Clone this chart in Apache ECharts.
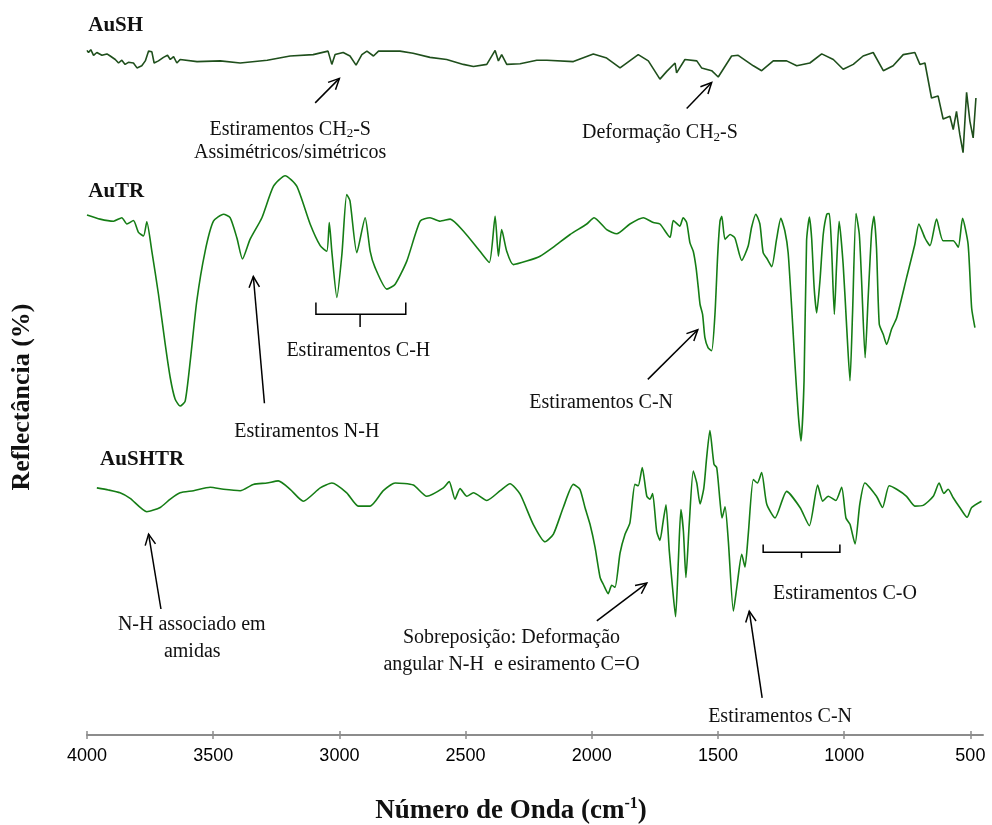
<!DOCTYPE html>
<html>
<head>
<meta charset="utf-8">
<script src="https://cdn.jsdelivr.net/npm/echarts@6/dist/echarts.min.js"></script>
<style>
  html, body { margin: 0; padding: 0; background: #fff; }
  #chart { width: 992px; height: 825px; }
</style>
</head>
<body>
<div id="chart"></div>
<script>
// Wavenumber ticks (cm-1)
const xTicks = [4000, 3500, 3000, 2500, 2000, 1500, 1000, 500];

// AuSH spectrum: wavenumber (cm-1) and reflectance (%), stacked offset included
const wnAuSH = [4000,3994,3985,3974,3961,3941,3921,3908,3888,3875,3862,3849,3836,3816,3802,3783,3769,3756,3743,3734,3717,3697,3681,3670,3657,3644,3631,
  3564,3472,3393,3286,3195,3104,3045,3030,3017,2985,2958,2934,2911,2891,2865,2845,2760,2708,2641,2575,2509,2469,2416,2383,2370,2357,2337,2284,2218,2178,2073,1994,1941,1888,1816,1776,1730,1703,1670,1664,1631,1584,1565,1525,1499,1446,1420,1360,1327,1281,1228,1188,1136,1089,1043,1004,964,925,885,845,806,766,720,700,680,654,628,608,581,568,555,542,529,515,502,489,478];
const rAuSH = [97.8,97.5,97.9,97.1,97.5,97.1,97.3,97.0,96.5,96.0,96.4,95.8,96.1,96.0,95.3,95.6,96.3,97.7,97.6,96.0,96.3,96.8,97.1,96.5,96.9,96.0,96.5,
  96.2,96.3,96.0,96.4,97.0,97.2,97.7,95.8,97.2,97.5,97.0,95.7,97.2,97.7,97.0,97.7,97.7,97.4,96.8,96.5,95.8,95.5,95.8,97.8,96.3,97.2,95.8,95.9,96.4,96.4,96.2,97.3,96.7,95.3,97.2,96.3,93.7,94.8,96.0,94.6,96.5,96.3,95.3,94.9,94.0,97.0,97.1,95.6,94.9,96.3,96.3,95.6,96.0,97.3,96.5,95.1,95.8,97.0,97.5,94.9,95.6,97.2,97.5,95.8,96.0,91.0,91.3,88.0,88.4,86.5,89.1,85.8,83.2,91.8,87.7,85.3,91.0];

// AuTR spectrum
const wnAuTR = [4000,3948,3895,3862,3842,3816,3796,3776,3763,3743,3717,3690,3670,3651,3631,3611,3591,3565,3532,3499,3459,3433,3406,3384,3354,3307,3261,3215,3169,3116,3076,3050,3040,3030,3010,2990,2971,2958,2931,2898,2878,2859,2812,2779,2733,2680,2641,2601,2561,2509,2443,2406,2383,2370,2357,2337,2311,2258,2205,2152,2086,2020,1991,1941,1901,1849,1796,1756,1730,1690,1677,
  1651,1638,1624,1611,1598,1587,1578,1571,1561,1552,1539,1525,1512,1501,1492,1485,1472,1452,1433,1406,1380,1367,1350,1334,1321,1305,1287,1268,1251,1235,1222,1208,1195,1182,1171,1159,1149,1138,1129,1119,1109,1096,1083,1069,1059,1050,1039,1030,1020,1004,990,977,967,953,940,931,917,905,891,882,872,861,845,832,812,792,
  753,720,704,680,660,634,608,568,548,531,509,495,482];
const rAuTR = [74.3,73.7,73.4,73.9,73.0,73.5,71.8,71.3,73.3,69.1,63.0,55.8,51.0,48.0,47.0,47.7,53.4,62.0,69.1,73.4,74.4,73.9,71.0,68.0,70.8,73.9,78.4,79.9,78.4,73.0,69.9,69.1,73.2,69.1,62.5,68.7,77.2,76.3,68.9,73.9,69.1,66.8,63.7,64.4,67.7,73.4,73.9,73.4,73.7,72.0,69.1,67.5,74.1,68.4,72.2,69.1,67.2,67.7,68.4,69.7,71.5,73.0,73.9,72.2,71.6,73.0,73.9,73.2,73.0,71.1,73.5,
  72.7,73.9,73.2,70.3,69.1,66.8,63.9,61.5,60.1,56.8,55.3,54.9,60.1,68.7,73.4,74.1,70.8,71.5,71.0,67.8,69.9,72.5,74.4,73.0,68.9,68.0,66.9,70.8,73.8,72.0,68.9,61.0,53.0,45.8,42.0,50.6,70.6,74.0,71.0,63.9,60.3,64.9,71.5,74.4,74.5,69.6,60.1,67.2,73.4,67.2,58.2,50.6,60.1,74.5,71.5,64.9,53.9,62.5,72.0,74.1,69.6,58.7,57.2,55.8,58.0,59.6,
  65.3,70.1,73.0,71.0,69.9,73.7,70.6,70.6,69.7,73.8,70.1,61.0,58.2];

// AuSHTR spectrum
const wnAuSHTR = [3961,3915,3869,3829,3763,3710,3670,3631,3578,3512,3459,3393,3341,3287,3242,3195,3143,3076,3030,2971,2925,2878,2826,2779,2707,2654,2588,2565,2542,2522,2495,2469,2416,2363,2324,2284,2232,2185,2152,2113,2073,
  2047,2027,2007,1987,1967,1954,1935,1921,1908,1888,1868,1849,1829,1816,1800,1782,1769,1759,1743,1730,1717,1706,1693,1680,1668,1657,1647,1637,1627,1614,1598,1584,1571,1556,1545,1532,1516,1505,1492,1484,1472,1459,1439,1424,1406,1393,1380,1360,1344,1327,1307,1274,
  1228,1175,1138,1105,1085,1063,1033,1010,993,977,957,938,918,872,848,822,792,753,720,687,647,624,605,588,568,542,513,495,456];
const rAuSHTR = [35.3,35.0,34.6,33.8,31.9,32.5,33.7,34.6,34.9,35.4,35.1,34.9,35.8,36.0,36.3,35.1,33.4,35.3,36.0,34.6,32.7,32.7,34.9,36.0,35.7,34.1,35.3,36.2,33.7,35.2,34.1,34.6,33.5,34.9,35.9,34.4,30.1,27.6,28.7,32.5,35.8,
  35.1,32.5,30.1,26.8,22.5,21.5,20.2,21.4,21.1,26.0,28.7,30.3,35.8,35.6,38.2,34.1,33.7,34.5,29.1,27.8,30.6,32.9,26.3,21.0,16.9,24.9,32.2,29.1,22.5,30.1,37.7,36.0,33.0,35.3,39.6,43.5,38.7,38.2,33.4,31.0,32.6,27.7,17.7,21.5,25.8,24.0,28.7,36.5,36.0,37.5,33.0,31.0,
  34.8,32.5,29.9,35.7,33.4,34.1,33.5,35.4,31.0,30.1,27.3,33.0,36.0,34.1,32.5,35.6,35.1,34.1,32.7,32.8,34.1,36.0,34.5,35.1,33.9,32.5,31.1,32.5,33.4];

// Band assignments: arrows (tail -> head) and brackets, in wavenumber / reflectance units
const bandArrows = [
  [[3096, 90.3], [3000, 93.8]],
  [[1624, 89.5], [1525, 93.2]],
  [[3297, 47.4], [3341, 65.5]],
  [[1778, 50.8], [1580, 57.9]],
  [[3707, 18.0], [3756, 28.7]],
  [[1980, 16.3], [1782, 21.7]],
  [[1325, 5.3], [1376, 17.7]]
];
const bandBrackets = [
  { from: 3093, to: 2737, mid: 2918, tip: 61.8, bar: 60.1, foot: 58.3 },
  { from: 1321, to: 1017, mid: 1169, tip: 27.2, bar: 26.1, foot: 25.3 }
];
const bandNotes = [
  { at: [3195, 86.5], text: '{t|Estiramentos CH}{s|2}{t|-S}' },
  { at: [3195, 83.2], text: '{t|Assimétricos/simétricos}' },
  { at: [1730, 86.0], text: '{t|Deformação CH}{s|2}{t|-S}' },
  { at: [3129, 43.3], text: '{t|Estiramentos N-H}' },
  { at: [2925, 54.9], text: '{t|Estiramentos C-H}' },
  { at: [1963, 47.5], text: '{t|Estiramentos C-N}' },
  { at: [3585, 15.8], text: '{t|N-H associado em}' },
  { at: [3583, 11.9], text: '{t|amidas}' },
  { at: [2318, 13.9], text: '{t|Sobreposição: Deformação}' },
  { at: [2318, 10.0], text: '{t|angular N-H  e esiramento C=O}' },
  { at: [1254, 2.6], text: '{t|Estiramentos C-N}' },
  { at: [997, 20.2], text: '{t|Estiramentos C-O}' }
];
const sampleNames = [
  { at: [3995, 101.3], text: 'AuSH' },
  { at: [3995, 77.6], text: 'AuTR' },
  { at: [3948, 39.3], text: 'AuSHTR' }
];

const serif = "'Liberation Serif', 'Times New Roman', Times, serif";
const sans = "'Liberation Sans', Arial, Helvetica, sans-serif";
const pairs = (xs, ys) => xs.map((x, i) => [x, ys[i]]);

const chart = echarts.init(document.getElementById('chart'), null, { renderer: 'canvas' });

const lineSeries = (name, data, color, smooth) => ({
  name, type: 'line', data, showSymbol: false, symbol: 'none', smooth,
  xAxisIndex: 0, yAxisIndex: 0,
  lineStyle: { color, width: 1.6 }, silent: true
});

chart.setOption({
  animation: false,
  backgroundColor: '#fff',
  grid: { left: 87, right: 9, top: 0, bottom: 90 },
  xAxis: [
    {
      type: 'value', min: 450, max: 4000, inverse: true, position: 'bottom',
      axisLine: { lineStyle: { color: '#8c8c8c', width: 2 } },
      axisTick: { customValues: xTicks, length: 4, lineStyle: { color: '#8c8c8c', width: 1.5 } },
      axisLabel: { customValues: xTicks, formatter: (v) => String(v), fontFamily: sans, fontSize: 18, color: '#000', margin: 12 },
      splitLine: { show: false }
    },
    {
      type: 'value', min: 450, max: 4000, inverse: true, position: 'bottom',
      axisLine: { show: false },
      axisTick: { customValues: xTicks, inside: true, length: 4, lineStyle: { color: '#8c8c8c', width: 1.5 } },
      axisLabel: { show: false },
      splitLine: { show: false }
    }
  ],
  yAxis: { type: 'value', min: 0, max: 105, show: false },
  series: [
    lineSeries('AuSH', pairs(wnAuSH, rAuSH), '#1f4f1c', false),
    lineSeries('AuTR', pairs(wnAuTR, rAuTR), '#157d15', 0.2),
    lineSeries('AuSHTR', pairs(wnAuSHTR, rAuSHTR), '#157d15', 0.2)
  ]
});

// Annotations drawn on top, positioned through the axis scales
const toPx = (p) => chart.convertToPixel({ xAxisIndex: 0, yAxisIndex: 0 }, p);
const ink = '#000';
const elements = [];

bandArrows.forEach(([tail, head]) => {
  const a = toPx(tail), b = toPx(head);
  const ang = Math.atan2(b[1] - a[1], b[0] - a[0]);
  const L = 12, spread = 0.45;
  const arm = (s) => [b[0] - L * Math.cos(ang + s), b[1] - L * Math.sin(ang + s)];
  const p1 = arm(spread), p2 = arm(-spread);
  elements.push({ type: 'line', shape: { x1: a[0], y1: a[1], x2: b[0], y2: b[1] }, style: { stroke: ink, lineWidth: 1.5 } });
  elements.push({ type: 'polyline', shape: { points: [p1, b, p2] }, style: { stroke: ink, lineWidth: 1.5, fill: null } });
});

bandBrackets.forEach((br) => {
  const l1 = toPx([br.from, br.tip]), l2 = toPx([br.from, br.bar]);
  const r1 = toPx([br.to, br.tip]), r2 = toPx([br.to, br.bar]);
  const m1 = toPx([br.mid, br.bar]), m2 = toPx([br.mid, br.foot]);
  elements.push({ type: 'polyline', shape: { points: [l1, l2, r2, r1] }, style: { stroke: ink, lineWidth: 1.5, fill: null } });
  elements.push({ type: 'line', shape: { x1: m1[0], y1: m1[1], x2: m2[0], y2: m2[1] }, style: { stroke: ink, lineWidth: 1.5 } });
});

const noteRich = {
  t: { fontFamily: serif, fontSize: 20, fill: '#111' },
  s: { fontFamily: serif, fontSize: 13, fill: '#111', padding: [9, 0, 0, 0] }
};
bandNotes.forEach((n) => {
  const p = toPx(n.at);
  elements.push({
    type: 'text', x: p[0], y: p[1],
    style: { text: n.text, rich: noteRich, align: 'center', verticalAlign: 'middle', textAlign: 'center', textVerticalAlign: 'middle' }
  });
});

sampleNames.forEach((n) => {
  const p = toPx(n.at);
  elements.push({
    type: 'text', x: p[0], y: p[1],
    style: { text: n.text, font: 'bold 21px ' + serif, fill: '#111', align: 'left', verticalAlign: 'middle', textAlign: 'left', textVerticalAlign: 'middle' }
  });
});

// Axis titles
elements.push({
  type: 'text', x: 511, y: 811,
  style: {
    text: '{b|Número de Onda (cm}{u|-1}{b|)}',
    rich: {
      b: { fontFamily: serif, fontWeight: 'bold', fontSize: 27, fill: '#111' },
      u: { fontFamily: serif, fontWeight: 'bold', fontSize: 16, fill: '#111', padding: [0, 0, 14, 0] }
    },
    align: 'center', verticalAlign: 'middle', textAlign: 'center', textVerticalAlign: 'middle'
  }
});
elements.push({
  type: 'text', x: 22, y: 397, rotation: Math.PI / 2,
  style: {
    text: 'Reflectância (%)', font: 'bold 26px ' + serif, fill: '#111',
    align: 'center', verticalAlign: 'middle', textAlign: 'center', textVerticalAlign: 'middle'
  }
});

chart.setOption({ graphic: { elements } });
</script>
</body>
</html>
